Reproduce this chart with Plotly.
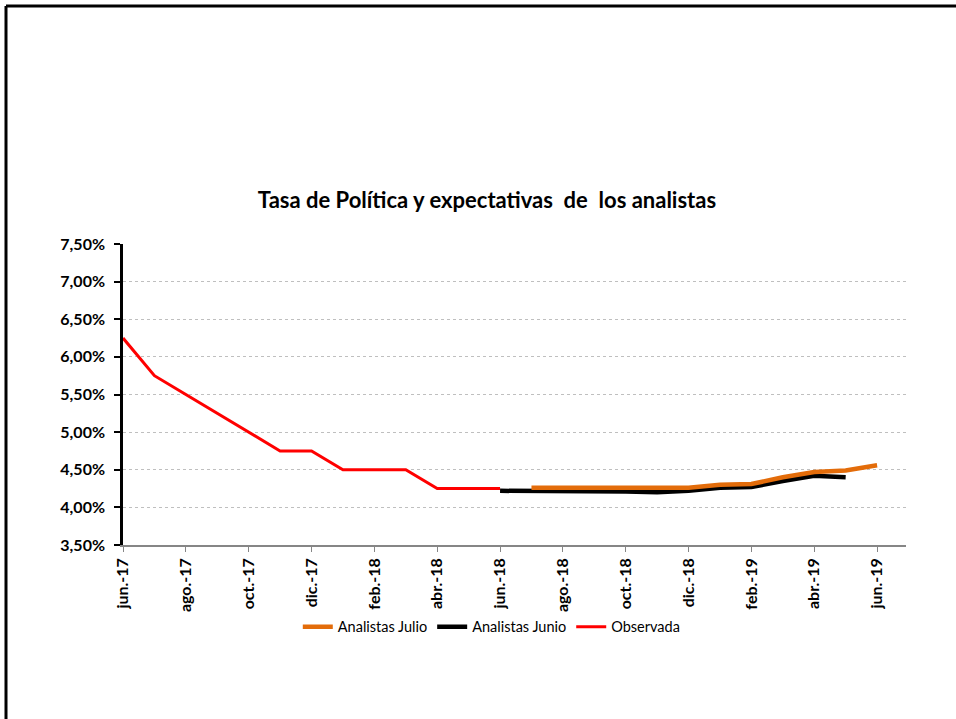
import plotly.graph_objects as go

# Monthly axis, jun.-17 to jun.-19
months = ["jun.-17", "jul.-17", "ago.-17", "sep.-17", "oct.-17", "nov.-17", "dic.-17",
          "ene.-18", "feb.-18", "mar.-18", "abr.-18", "may.-18", "jun.-18",
          "jul.-18", "ago.-18", "sep.-18", "oct.-18", "nov.-18", "dic.-18",
          "ene.-19", "feb.-19", "mar.-19", "abr.-19", "may.-19", "jun.-19"]

# Observed policy rate (%)
obs_months = months[:13]
observada = [6.25, 5.75, 5.50, 5.25, 5.00, 4.75, 4.75, 4.50, 4.50, 4.50, 4.25, 4.25, 4.25]

# Analysts' survey, June edition (%)
junio_months = months[12:24]
analistas_junio = [4.22, 4.22, 4.22, 4.21, 4.21, 4.20, 4.22, 4.26, 4.27, 4.35, 4.42, 4.40]

# Analysts' survey, July edition (%)
julio_months = months[13:25]
analistas_julio = [4.26, 4.26, 4.25, 4.25, 4.25, 4.26, 4.30, 4.31, 4.40, 4.47, 4.49, 4.56]

y_ticks = [3.5, 4.0, 4.5, 5.0, 5.5, 6.0, 6.5, 7.0, 7.5]
y_tick_labels = [f"{v:.2f}".replace(".", ",") + "%" for v in y_ticks]

FONT = "Lato"

fig = go.Figure()
fig.add_trace(go.Scatter(x=junio_months, y=analistas_junio, mode="lines",
                         name="Analistas Junio", legendrank=2,
                         line=dict(color="#000000", width=4.5)))
fig.add_trace(go.Scatter(x=julio_months, y=analistas_julio, mode="lines",
                         name="Analistas Julio", legendrank=1,
                         line=dict(color="#E36C0A", width=4.5)))
fig.add_trace(go.Scatter(x=obs_months, y=observada, mode="lines",
                         name="Observada", legendrank=3,
                         line=dict(color="#FF0000", width=3)))

# Outer frame (top and left edges of the chart area border)
frame_left = (6 - 123) / 783
frame_top = 1 + (244 - 6) / 301
fig.add_shape(type="line", xref="paper", yref="paper",
              x0=frame_left, x1=1.2, y0=frame_top, y1=frame_top,
              line=dict(color="black", width=3))
fig.add_shape(type="line", xref="paper", yref="paper",
              x0=frame_left, x1=frame_left, y0=frame_top, y1=-1.0,
              line=dict(color="black", width=3))

fig.update_layout(
    width=956, height=719,
    margin=dict(l=123, r=50, t=244, b=174),
    paper_bgcolor="white", plot_bgcolor="white",
    font=dict(family=FONT, color="black"),
    title=dict(text="<b>Tasa de Política y expectativas  de  los analistas</b>",
               x=487 / 956, xanchor="center", y=1 - 200 / 719, yanchor="middle",
               font=dict(size=22, family=FONT, color="black")),
    showlegend=True,
    legend=dict(orientation="h", x=0.471, xanchor="center", y=-0.272, yanchor="middle",
                font=dict(size=14.5, family=FONT, color="black"),
                itemwidth=30, tracegroupgap=0, bgcolor="rgba(0,0,0,0)"),
)

fig.update_xaxes(
    type="category", categoryorder="array", categoryarray=months,
    range=[0, 24.92],
    tickmode="array", tickvals=months[::2], ticktext=months[::2],
    tickangle=-90, tickfont=dict(size=16, family=FONT, color="black", weight="bold"),
    showline=True, linecolor="#868686", linewidth=1.5,
    ticks="outside", ticklen=5, tickcolor="#868686", tickwidth=1,
    showgrid=False, zeroline=False,
)

fig.update_yaxes(
    range=[3.5, 7.5],
    tickmode="array", tickvals=y_ticks, ticktext=y_tick_labels,
    tickfont=dict(size=16, family=FONT, color="black", weight="bold"),
    ticklabelstandoff=6,
    showline=True, linecolor="black", linewidth=2.5,
    ticks="outside", ticklen=6, tickcolor="black", tickwidth=2,
    showgrid=True, gridcolor="#BFBFBF", gridwidth=1, griddash="dot",
    zeroline=False,
)

fig.write_html("out.html")
